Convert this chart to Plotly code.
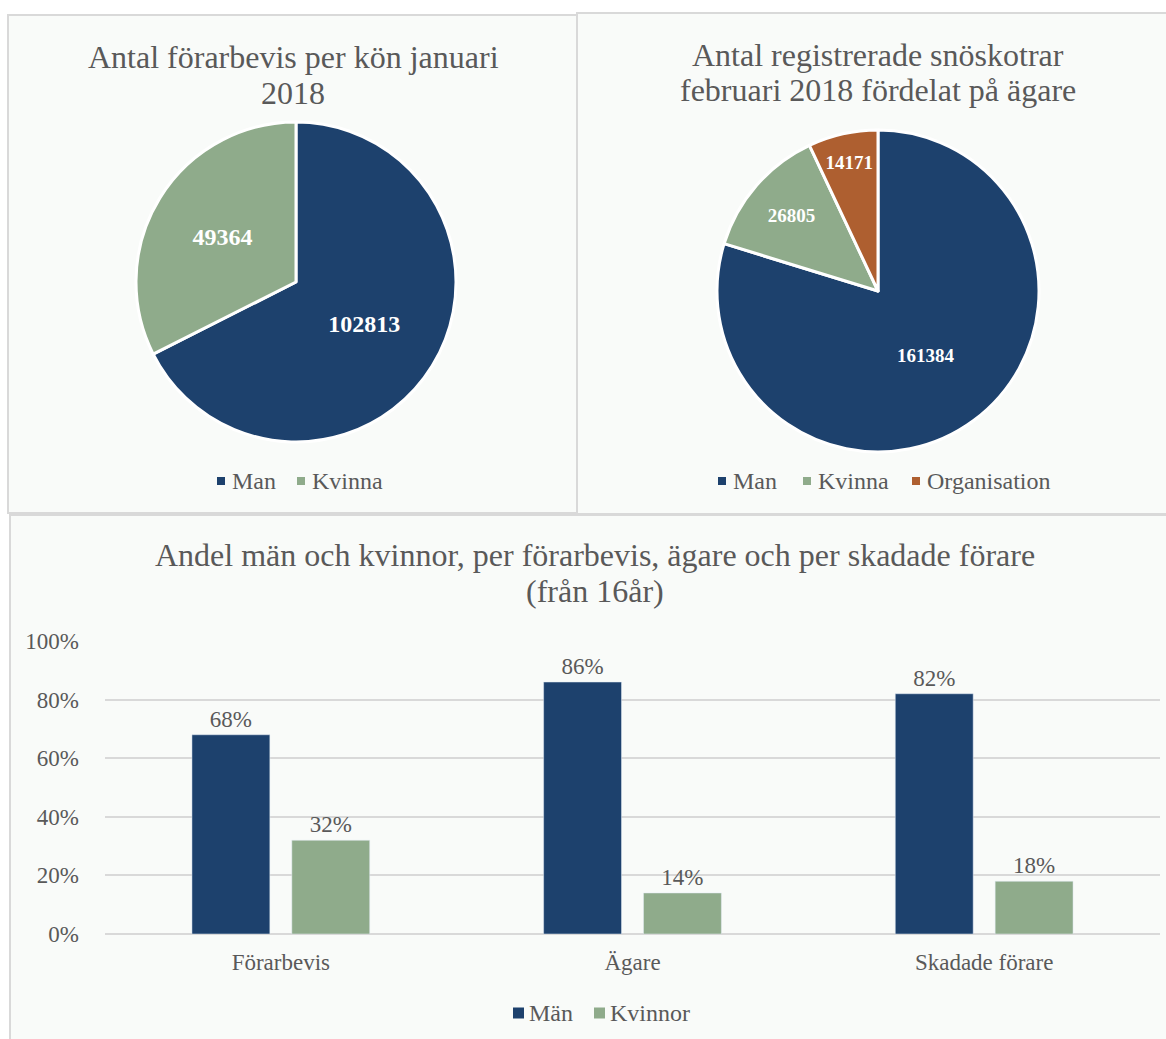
import plotly.graph_objects as go

# --- data ---
pie1_labels = ["Man", "Kvinna"]
pie1_values = [102813, 49364]

pie2_labels = ["Man", "Kvinna", "Organisation"]
pie2_values = [161384, 26805, 14171]

bar_categories = ["Förarbevis", "Ägare", "Skadade förare"]
bar_men = [68, 86, 82]
bar_women = [32, 14, 18]

# --- style ---
W, H = 1166, 1039
NAVY = "#1d416d"
SAGE = "#8fab8b"
RUST = "#ae5f30"
TEXT = "#595959"
GRID = "#d9d9d9"
PANEL_BG = "#f9fbf9"
FONT = "Liberation Serif"


def px(x):
    return x / W


def py(y):
    return 1 - y / H


fig = go.Figure()

fig.add_trace(go.Pie(
    labels=pie1_labels, values=pie1_values, sort=False, direction="clockwise",
    rotation=0, marker=dict(colors=[NAVY, SAGE], line=dict(color="white", width=3)),
    texttemplate="%{value:.0f}", textposition="inside", insidetextorientation="horizontal",
    textfont=dict(family=FONT, size=24, color="white", weight="bold"),
    domain=dict(x=[px(136), px(456)], y=[py(442), py(122)]),
    showlegend=False, hoverinfo="label+value",
))

fig.add_trace(go.Pie(
    labels=pie2_labels, values=pie2_values, sort=False, direction="clockwise",
    rotation=0, marker=dict(colors=[NAVY, SAGE, RUST], line=dict(color="white", width=3)),
    texttemplate="%{value:.0f}", textposition="inside", insidetextorientation="horizontal",
    textfont=dict(family=FONT, size=19, color="white", weight="bold"),
    domain=dict(x=[px(717), px(1039)], y=[py(452), py(130)]),
    showlegend=False, hoverinfo="label+value",
))

label_font = dict(family=FONT, size=23, color=TEXT)
fig.add_trace(go.Bar(
    x=bar_categories, y=bar_men, name="Män", marker_color=NAVY,
    text=[f"{v}%" for v in bar_men], textposition="outside",
    textfont=label_font, cliponaxis=False,
    xaxis="x", yaxis="y", showlegend=False,
))
fig.add_trace(go.Bar(
    x=bar_categories, y=bar_women, name="Kvinnor", marker_color=SAGE,
    text=[f"{v}%" for v in bar_women], textposition="outside",
    textfont=label_font, cliponaxis=False,
    xaxis="x", yaxis="y", showlegend=False,
))

shapes = []
# panel frames
for x0, y0, x1, y1 in [(8, 15, 577, 513), (577, 13, 1170, 514), (10, 515, 1170, 1045)]:
    shapes.append(dict(type="rect", xref="paper", yref="paper",
                       x0=px(x0), x1=px(x1), y0=py(y1), y1=py(y0),
                       line=dict(color=GRID, width=2), fillcolor=PANEL_BG, layer="below"))

annotations = []
title_font = dict(family=FONT, size=32, color=TEXT)
titles = [
    (["Antal förarbevis per kön januari", "2018"], 293, [57, 93]),
    (["Antal registrerade snöskotrar", "februari 2018 fördelat på ägare"], 878, [55, 90]),
    (["Andel män och kvinnor, per förarbevis, ägare och per skadade förare", "(från 16år)"], 595, [555, 591]),
]
for lines, cx, ys in titles:
    for line, cy in zip(lines, ys):
        annotations.append(dict(text=line, x=px(cx), y=py(cy), xref="paper", yref="paper",
                                showarrow=False, font=title_font,
                                xanchor="center", yanchor="middle"))

legend_font = dict(family=FONT, size=24, color=TEXT)


# legends drawn as marker squares + labels
def legend(items, y, xs, size, gap):
    for (label, color), x in zip(items, xs):
        shapes.append(dict(type="rect", xref="paper", yref="paper",
                           x0=px(x), x1=px(x + size), y0=py(y + size / 2), y1=py(y - size / 2),
                           fillcolor=color, line=dict(width=0)))
        annotations.append(dict(text=label, x=px(x + size + gap), y=py(y), xref="paper",
                                yref="paper", showarrow=False, xanchor="left",
                                yanchor="middle", font=legend_font))


legend(list(zip(pie1_labels, [NAVY, SAGE])), 481, [217, 297], 8, 5)
legend(list(zip(pie2_labels, [NAVY, SAGE, RUST])), 481, [718, 803, 912], 8, 5)
legend([("Män", NAVY), ("Kvinnor", SAGE)], 1013, [513, 594], 11, 3)

fig.update_layout(
    width=W, height=H, margin=dict(l=0, r=0, t=0, b=0, autoexpand=False),
    paper_bgcolor="white", plot_bgcolor="rgba(0,0,0,0)",
    font=dict(family=FONT, color=TEXT),
    barmode="group", bargap=0.432, bargroupgap=0.22,
    xaxis=dict(domain=[px(105), px(1160)], anchor="y", showline=False, showgrid=False,
               automargin=False, ticks="",
               tickfont=dict(family=FONT, size=23, color=TEXT), ticklabelstandoff=12),
    yaxis=dict(domain=[py(934), py(641)], anchor="x", range=[0, 100], dtick=20,
               ticksuffix="%", showgrid=True, gridcolor=GRID, gridwidth=2,
               zeroline=True, zerolinecolor=GRID, zerolinewidth=2, automargin=False,
               tickfont=dict(family=FONT, size=23, color=TEXT), ticklabelstandoff=25),
    shapes=shapes, annotations=annotations,
)

fig.write_html("out.html")
